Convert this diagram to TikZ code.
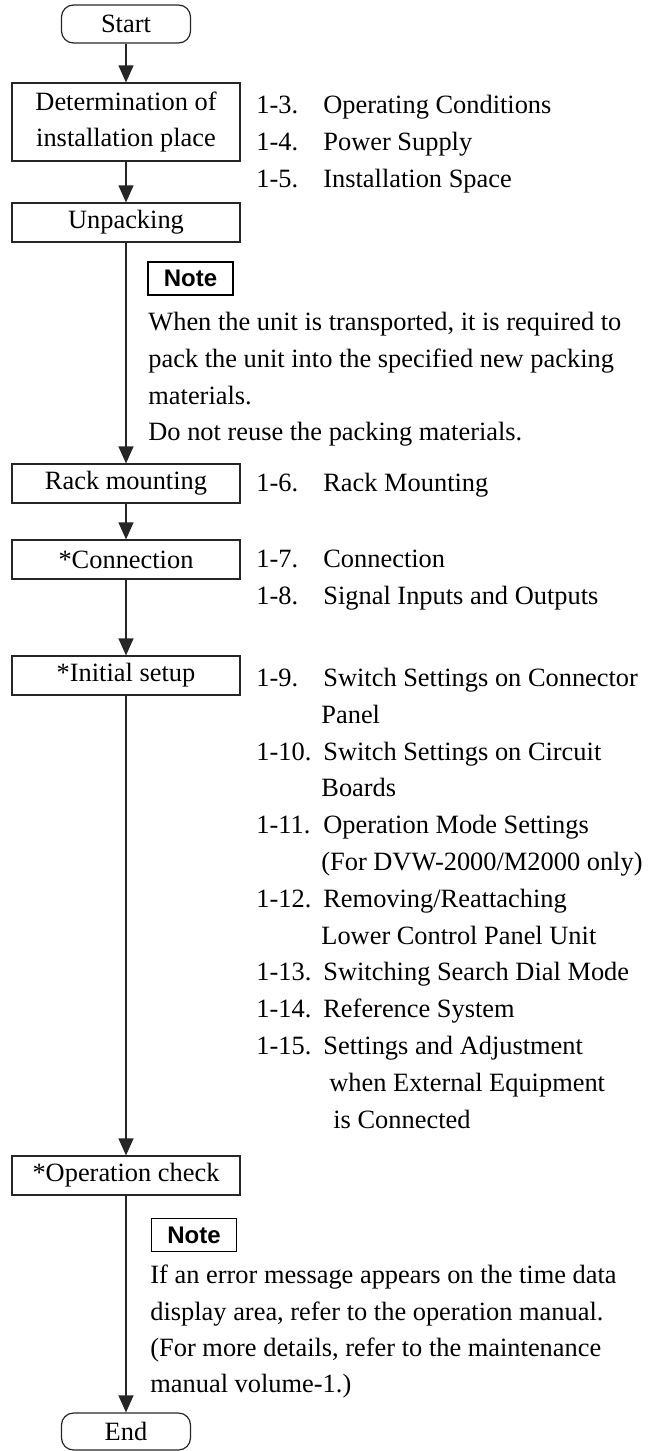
\documentclass[tikz,border=0pt]{standalone}
\usepackage{fontspec}
\setmainfont{Liberation Serif}
\newfontfamily\notefont{Liberation Sans}
\usetikzlibrary{positioning,arrows.meta}

\begin{document}
\begin{tikzpicture}[
    x=0.5pt,y=-0.5pt,
    box/.style={
      draw=black!85,line width=0.6pt,align=center,
      font=\fontsize{13.2}{18.4}\selectfont,
      minimum height=19.5pt,minimum width=114pt,inner sep=0pt},
    term/.style={box,rounded corners=6pt,minimum width=64.5pt,minimum height=19pt},
    ref/.style={anchor=base west,inner sep=0pt,font=\fontsize{13.2}{18.4}\selectfont},
    notebox/.style={
      draw,line width=0.9pt,inner sep=0pt,
      minimum width=42.5pt,minimum height=16.5pt,
      font=\notefont\bfseries\fontsize{12}{13}\selectfont},
    arr/.style={-{Triangle[length=8.5pt,width=7.5pt]},line width=0.6pt,black!85}
]
\useasboundingbox (0,0) rectangle (648,1451);

\node[term]                       (start)  at (126,24)     {Start};
\node[box,minimum height=39pt]    (det)    at (126,122)    {Determination of\\installation place};
\node[box]                        (unpack) at (126,222.5)  {Unpacking};
\node[box]                        (rack)   at (126,483.5)  {Rack mounting};
\node[box]                        (conn)   at (126,559.5)  {*Connection};
\node[box]                        (init)   at (126,675.5)  {*Initial setup};
\node[box]                        (opchk)  at (126,1175.5) {*Operation check};
\node[term,minimum height=18.5pt] (fin)    at (126,1431.5) {End};

\draw[arr] (start)  -- (det);
\draw[arr] (det)    -- (unpack);
\draw[arr] (unpack) -- (rack);
\draw[arr] (rack)   -- (conn);
\draw[arr] (conn)   -- (init);
\draw[arr] (init)   -- (opchk);
\draw[arr] (opchk)  -- (fin);

\foreach \y/\w/\no/\txt [count=\i] in {
    113/33.5/1-3./{Operating Conditions},
    150/33.5/1-4./{Power Supply},
    187/33.5/1-5./{Installation Space},
    491/33.5/1-6./{Rack Mounting},
    567/33.5/1-7./{Connection},
    604/33.5/1-8./{Signal Inputs and Outputs},
    686/33.5/1-9./{Switch Settings on Connector},
    723/32.5//{Panel},
    760/33.5/1-10./{Switch Settings on Circuit},
    796/32.5//{Boards},
    833/33.5/1-11./{Operation Mode Settings},
    870/32.5//{(For DVW-2000/M2000 only)},
    907/33.5/1-12./{Removing/Reattaching},
    944/32.5//{Lower Control Panel Unit},
    980/33.5/1-13./{Switching Search Dial Mode},
    1017/33.5/1-14./{Reference System},
    1054/33.5/1-15./{Settings and Adjustment},
    1091/36.5//{when External Equipment},
    1128/38.5//{is Connected}}
  \node[ref] (sec\i) at (256,\y) {\makebox[\w pt][l]{\no}\txt};

\node[notebox] (note1) at (190.5,278.5) {Note};
\foreach \y/\txt [count=\i] in {
    330/{When the unit is transported, it is required to},
    367/{pack the unit into the specified new packing},
    404/{materials.},
    440/{Do not reuse the packing materials.}}
  \node[ref] (nA\i) at (148,\y) {\txt};

\node[notebox] (note2) at (194,1235) {Note};
\foreach \y/\txt [count=\i] in {
    1283/{If an error message appears on the time data},
    1320/{display area, refer to the operation manual.},
    1356/{(For more details, refer to the maintenance},
    1392/{manual volume-1.)}}
  \node[ref] (nB\i) at (150,\y) {\txt};
\end{tikzpicture}
\end{document}
